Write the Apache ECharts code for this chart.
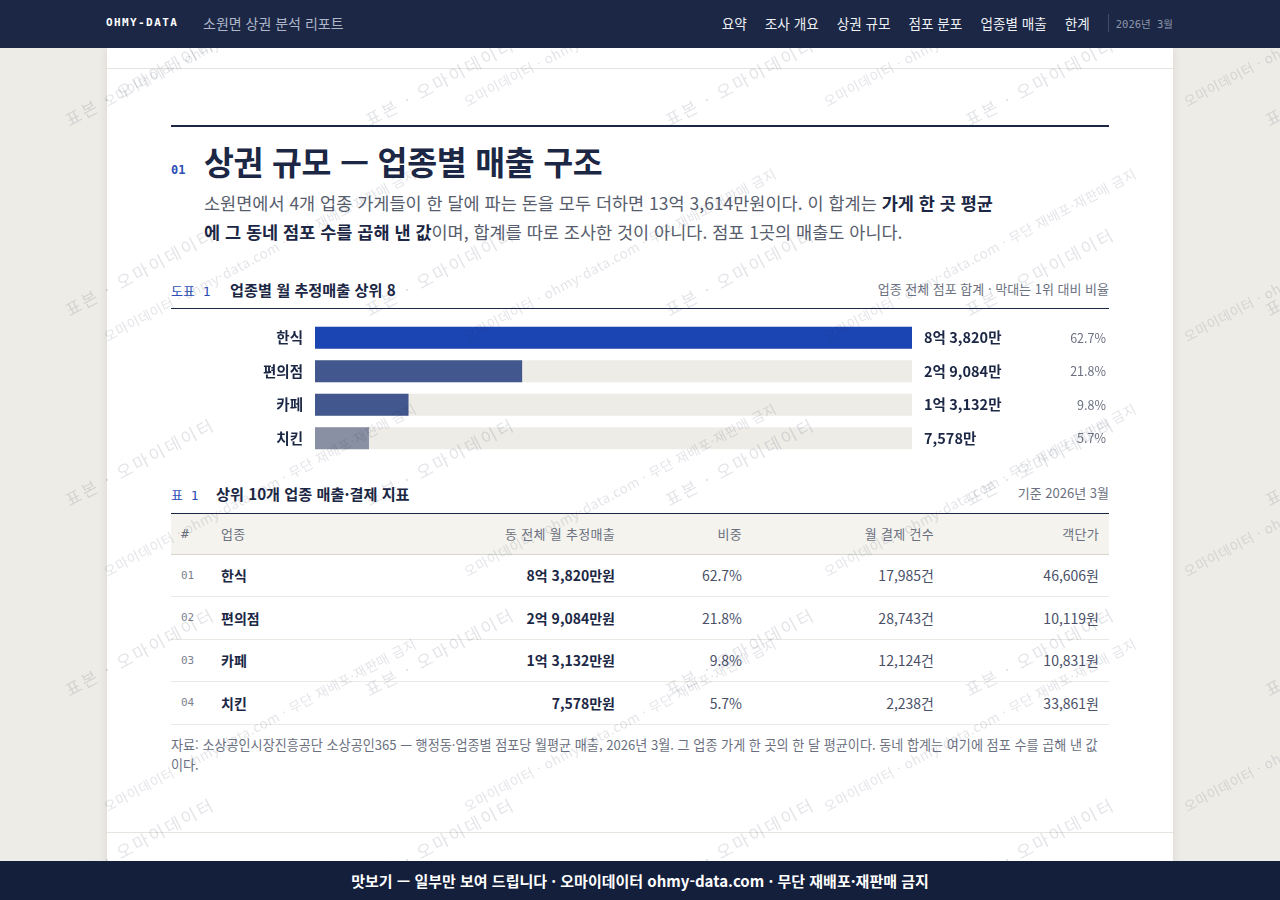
<!DOCTYPE html>
<html lang="ko">
<head>
<meta charset="utf-8">
<title>소원면 상권 분석 리포트</title>
<script src="https://cdn.jsdelivr.net/npm/echarts@6/dist/echarts.min.js"></script>
<style>
  * { box-sizing: border-box; margin: 0; padding: 0; }
  html, body { width: 1280px; height: 900px; overflow: hidden; }
  body { background: #eeece7; font-family: "Noto Sans CJK KR", "Noto Sans", sans-serif; color: #1b2744; position: relative; }
  .mono { font-family: "DejaVu Sans Mono", "Noto Sans CJK KR", monospace; }

  /* ── 상단 바 ── */
  .topbar { position: absolute; left: 0; top: 0; width: 1280px; height: 48px; background: #1b2745; z-index: 10; }
  .brand { position: absolute; left: 106px; top: 16px; font-size: 11px; font-weight: bold; color: #fff; letter-spacing: 1.4px; }
  .brand-sub { position: absolute; left: 203px; top: 13px; font-size: 14px; color: #aeb6c8; }
  .nav { position: absolute; right: 107px; top: 13px; display: flex; align-items: center; font-size: 13.6px; color: #eef0f5; }
  .nav span { margin-left: 18px; }
  .nav .sep { width: 1px; height: 18px; background: rgba(255,255,255,0.18); margin-left: 18px; }
  .nav .date { margin-left: 7px; font-size: 10.5px; color: #8e96aa; }

  /* ── 본문 패널 ── */
  .panel { position: absolute; left: 107px; top: 48px; width: 1066px; height: 852px; background: #fff; box-shadow: 0 0 10px rgba(60,50,30,0.10); }
  .panel .topline { position: absolute; left: 0; top: 20px; width: 100%; height: 1px; background: #e6e4de; }
  .panel .botline { position: absolute; left: 0; top: 784px; width: 100%; height: 1px; background: #e6e4de; }
  .blk { position: absolute; left: 64px; width: 938px; }
  .rule2 { top: 77px; height: 2px; background: #1b2744; }
  .sec-no { position: absolute; left: 64px; top: 115px; font-size: 12px; color: #2d4fb5; font-weight: bold; }
  .sec-title { position: absolute; left: 97px; top: 89px; font-size: 32.5px; font-weight: bold; color: #1b2744; letter-spacing: -0.3px; white-space: nowrap; }
  .lead { position: absolute; left: 97px; top: 140px; font-size: 17.5px; line-height: 29px; color: #575d6c; white-space: nowrap; }
  .lead b { color: #1b2744; }
  .cap { height: 20px; font-size: 13px; }
  .cap .tag { color: #2d4fb5; display: inline-block; }
  .cap .ttl { font-weight: bold; color: #1b2744; font-size: 15.2px; }
  .cap .side { position: absolute; right: 0; top: 1px; font-size: 13px; color: #6b7080; }
  .rule1 { height: 1px; background: #1b2744; }
  #chart { position: absolute; left: 64px; top: 273px; width: 938px; height: 134px; }

  table { border-collapse: collapse; table-layout: fixed; width: 938px; }
  th { height: 40px; background: #f4f3ee; font-size: 13px; font-weight: normal; color: #6b7080; border-bottom: 1px solid #d8d5ce; padding: 0 10px; letter-spacing: 0.3px; }
  td { height: 42.5px; border-bottom: 1px solid #ebe9e4; padding: 0 10px; font-size: 14px; color: #4a5068; }
  .r { text-align: right; }
  .l { text-align: left; }
  td.no { font-size: 11px; color: #7d8190; }
  td.nm, td.sv { font-weight: bold; color: #1b2744; }
  .note { font-size: 13.1px; line-height: 20px; color: #6b7080; white-space: nowrap; }

  /* ── 워터마크 ── */
  #wm { position: absolute; left: 0; top: 0; width: 1280px; height: 900px; z-index: 5; pointer-events: none; overflow: hidden; }
  #wm span { position: absolute; white-space: nowrap; transform-origin: 0 100%; transform: rotate(-28deg); color: rgba(40,50,80,0.13); line-height: 1; }
  #wm .a { font-size: 17px; letter-spacing: 2.5px; }
  #wm .b { font-size: 13.5px; letter-spacing: 0.5px; }

  /* ── 하단 바 ── */
  .foot { position: absolute; left: 0; top: 861px; width: 1280px; height: 39px; background: #141f3c; z-index: 10; color: #fff; font-weight: bold; font-size: 15px; text-align: center; line-height: 39px; }
</style>
</head>
<body>
<div class="topbar">
  <div class="brand mono">OHMY-DATA</div>
  <div class="brand-sub">소원면 상권 분석 리포트</div>
  <div class="nav">
    <span>요약</span><span>조사 개요</span><span>상권 규모</span><span>점포 분포</span><span>업종별 매출</span><span>한계</span>
    <div class="sep"></div><div class="date mono">2026년 3월</div>
  </div>
</div>

<div class="panel">
  <div class="topline"></div>
  <div class="blk rule2"></div>
  <div class="sec-no mono">01</div>
  <div class="sec-title">상권 규모 — 업종별 매출 구조</div>
  <div class="lead">소원면에서 4개 업종 가게들이 한 달에 파는 돈을 모두 더하면 13억 3,614만원이다. 이 합계는 <b>가게 한 곳 평균<br>에 그 동네 점포 수를 곱해 낸 값</b>이며, 합계를 따로 조사한 것이 아니다. 점포 1곳의 매출도 아니다.</div>

  <div class="blk cap" style="top:230px">
    <span class="tag mono" style="width:59px">도표 1</span><span class="ttl">업종별 월 추정매출 상위 8</span>
    <span class="side">업종 전체 점포 합계 · 막대는 1위 대비 비율</span>
  </div>
  <div class="blk rule1" style="top:260px"></div>
  <div id="chart"></div>

  <div class="blk cap" style="top:434px">
    <span class="tag mono" style="width:45px">표 1</span><span class="ttl">상위 10개 업종 매출·결제 지표</span>
    <span class="side">기준 2026년 3월</span>
  </div>
  <div class="blk rule1" style="top:465px"></div>
  <div class="blk" style="top:466px">
    <table id="tbl">
      <colgroup><col style="width:40px"><col style="width:214px"><col style="width:200px"><col style="width:127px"><col style="width:192px"><col style="width:165px"></colgroup>
      <thead><tr><th class="l mono">#</th><th class="l">업종</th><th class="r">동 전체 월 추정매출</th><th class="r">비중</th><th class="r">월 결제 건수</th><th class="r">객단가</th></tr></thead>
      <tbody></tbody>
    </table>
  </div>
  <div class="blk note" style="top:687px">자료: 소상공인시장진흥공단 소상공인365 — 행정동·업종별 점포당 월평균 매출, 2026년 3월. 그 업종 가게 한 곳의 한 달 평균이다. 동네 합계는 여기에 점포 수를 곱해 낸 값<br>이다.</div>
  <div class="botline"></div>
</div>

<div id="wm"></div>
<div class="foot">맛보기 — 일부만 보여 드립니다 · 오마이데이터 ohmy-data.com · 무단 재배포·재판매 금지</div>

<script>
// ── 데이터 (단위: 만원) ──
var categories = ["한식", "편의점", "카페", "치킨"];
var salesMan = [83820, 29084, 13132, 7578];             // 동 전체 월 추정매출
var shares = ["62.7%", "21.8%", "9.8%", "5.7%"];         // 비중
var payCounts = ["17,985", "28,743", "12,124", "2,238"]; // 월 결제 건수
var unitPrices = ["46,606", "10,119", "10,831", "33,861"]; // 객단가
var barColors = ["#1c45b4", "#41578d", "#41578d", "#8990a4"];

var NAVY = "#1b2744", MUTED = "#6b7080", FONT = "Noto Sans CJK KR";

function fmtMan(v) {
  var eok = Math.floor(v / 10000), man = v % 10000;
  var m = man.toLocaleString("en-US");
  return eok ? eok + "억 " + m + "만" : m + "만";
}

// ── 막대 그래프 ──
var chart = echarts.init(document.getElementById("chart"), null, { renderer: "canvas" });
chart.setOption({
  animation: false,
  textStyle: { fontFamily: FONT },
  grid: { left: 144, right: 194, top: 0, bottom: 0, containLabel: false },
  xAxis: { type: "value", min: 0, max: salesMan[0], show: false },
  yAxis: [
    {
      type: "category", data: categories, inverse: true,
      axisLine: { show: false }, axisTick: { show: false }, splitLine: { show: false },
      axisLabel: { color: NAVY, fontSize: 14.5, fontWeight: "bold", margin: 12, fontFamily: FONT }
    },
    {
      type: "category", data: categories, inverse: true, position: "right",
      axisLine: { show: false }, axisTick: { show: false }, splitLine: { show: false },
      axisLabel: {
        margin: 12, align: "left",
        formatter: function (v, i) { return "{v|" + fmtMan(salesMan[i]) + "}{p|" + shares[i] + "}"; },
        rich: {
          v: { fontSize: 14.5, fontWeight: "bold", color: NAVY, width: 115, align: "left", fontFamily: FONT },
          p: { fontSize: 12.5, color: MUTED, width: 67, align: "right", fontFamily: FONT }
        }
      }
    }
  ],
  series: [{
    type: "bar", yAxisIndex: 0, barWidth: 22,
    showBackground: true, backgroundStyle: { color: "#eeece7" },
    data: salesMan.map(function (v, i) { return { value: v, itemStyle: { color: barColors[i] } }; })
  }]
});

// ── 표 ──
var tb = document.querySelector("#tbl tbody");
categories.forEach(function (c, i) {
  var tr = document.createElement("tr");
  tr.innerHTML =
    '<td class="l no mono">' + ("0" + (i + 1)) + '</td>' +
    '<td class="l nm">' + c + '</td>' +
    '<td class="r sv">' + fmtMan(salesMan[i]) + '원</td>' +
    '<td class="r">' + shares[i] + '</td>' +
    '<td class="r">' + payCounts[i] + '건</td>' +
    '<td class="r">' + unitPrices[i] + '원</td>';
  tb.appendChild(tr);
});

// ── 워터마크 ──
(function () {
  var wm = document.getElementById("wm");
  function put(cls, text, x, y) {
    var s = document.createElement("span");
    s.className = cls; s.textContent = text;
    s.style.left = x + "px"; s.style.top = (y - 17) + "px";
    wm.appendChild(s);
  }
  var r, k;
  for (r = 0; r < 5; r++) for (k = 0; k < 5; k++) put("a", "표본 · 오마이데이터", 70 + k * 300, 128 + r * 190);
  for (r = 0; r < 5; r++) for (k = 0; k < 4; k++) put("b", "오마이데이터 · ohmy-data.com · 무단 재배포·재판매 금지", 108 + k * 360, 112 + r * 235);
})();
</script>
</body>
</html>
